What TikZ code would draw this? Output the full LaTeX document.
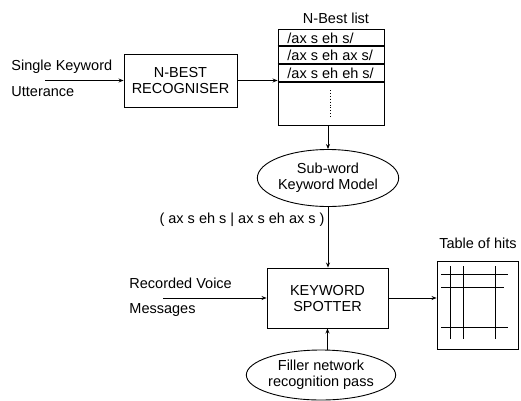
\documentclass[tikz,border=0pt]{standalone}
\usepackage{fontspec}
\setmainfont{Liberation Sans}
\usetikzlibrary{shapes.geometric,arrows.meta}
\begin{document}
\begin{tikzpicture}[x=1pt,y=-1pt,
  font=\fontsize{14.5}{16}\selectfont,
  line width=0.9pt,
  block/.style={draw,rectangle,inner sep=0pt,align=center},
  oval/.style={draw,ellipse,inner sep=0pt,align=center},
  lbl/.style={inner sep=0pt,anchor=west},
  flow/.style={-{Stealth[length=5pt,width=4pt]}},
  grid line/.style={line width=1pt}]
\useasboundingbox (0,0) rectangle (521,400);

% processing blocks
\node[block,minimum width=113,minimum height=53] (nbest) at (180.5,80.5) {N-BEST\\RECOGNISER};
\node[block,minimum width=121,minimum height=60] (spot) at (327.5,298) {KEYWORD\\SPOTTER};

% N-best list
\node[block,minimum width=106,minimum height=96] (list) at (331,77) {};
\node[inner sep=0pt] (listtitle) at (336,18) {N-Best list};
\draw[line width=1.3pt] (list.west |- 0,46) -- (list.east |- 0,46);
\draw[line width=1.3pt] (list.west |- 0,64) -- (list.east |- 0,64);
\draw[line width=1.3pt] (list.west |- 0,82) -- (list.east |- 0,82);
\node[lbl] (h1) at (287,38) {/ax s eh s/};
\node[lbl] (h2) at (287,55.5) {/ax s eh ax s/};
\node[lbl] (h3) at (287,73) {/ax s eh eh s/};
\draw[dotted,line width=0.9pt] (330,90) -- (330,117);

% models
\node[oval,minimum width=127,minimum height=57] (sub) at (328,178) {Sub-word\\Keyword Model};
\node[oval,minimum width=118,minimum height=50] (filler) at (321,375) {Filler network\\recognition pass};

% table of hits
\node[block,minimum width=81,minimum height=88] (table) at (477.5,305) {};
\node[inner sep=0pt] (tabletitle) at (478,243) {Table of hits};
\draw[grid line] (441,274) -- (508,274);
\draw[grid line] (441,287) -- (504,287);
\draw[grid line] (441,327) -- (508,327);
\draw[grid line] (450,266) -- (450,339);
\draw[grid line] (463,266) -- (463,339);
\draw[grid line] (495,266) -- (495,339);

% input labels
\node[lbl] (in1a) at (11,67) {Single Keyword};
\node[lbl] (in1b) at (11,92) {Utterance};
\node[lbl] (in2a) at (129,283) {Recorded Voice};
\node[lbl] (in2b) at (129,310) {Messages};
\node[inner sep=0pt] (pron) at (242,220) {( ax s eh s | ax s eh ax s )};

% connectors
\coordinate (src1) at (45,80.5);
\coordinate (src2) at (163,298);
\draw[flow] (src1) -- (nbest.west);
\draw[flow] (nbest.east) -- (nbest.east -| list.west);
\draw[flow] (list.south -| sub.north) -- (sub.north);
\draw[flow] (sub.south) -- (spot.north -| sub.south);
\draw[flow] (src2) -- (spot.west);
\draw[flow] (filler.north -| spot.south) -- (spot.south);
\draw[flow] (spot.east) -- (spot.east -| table.west);
\end{tikzpicture}
\end{document}
